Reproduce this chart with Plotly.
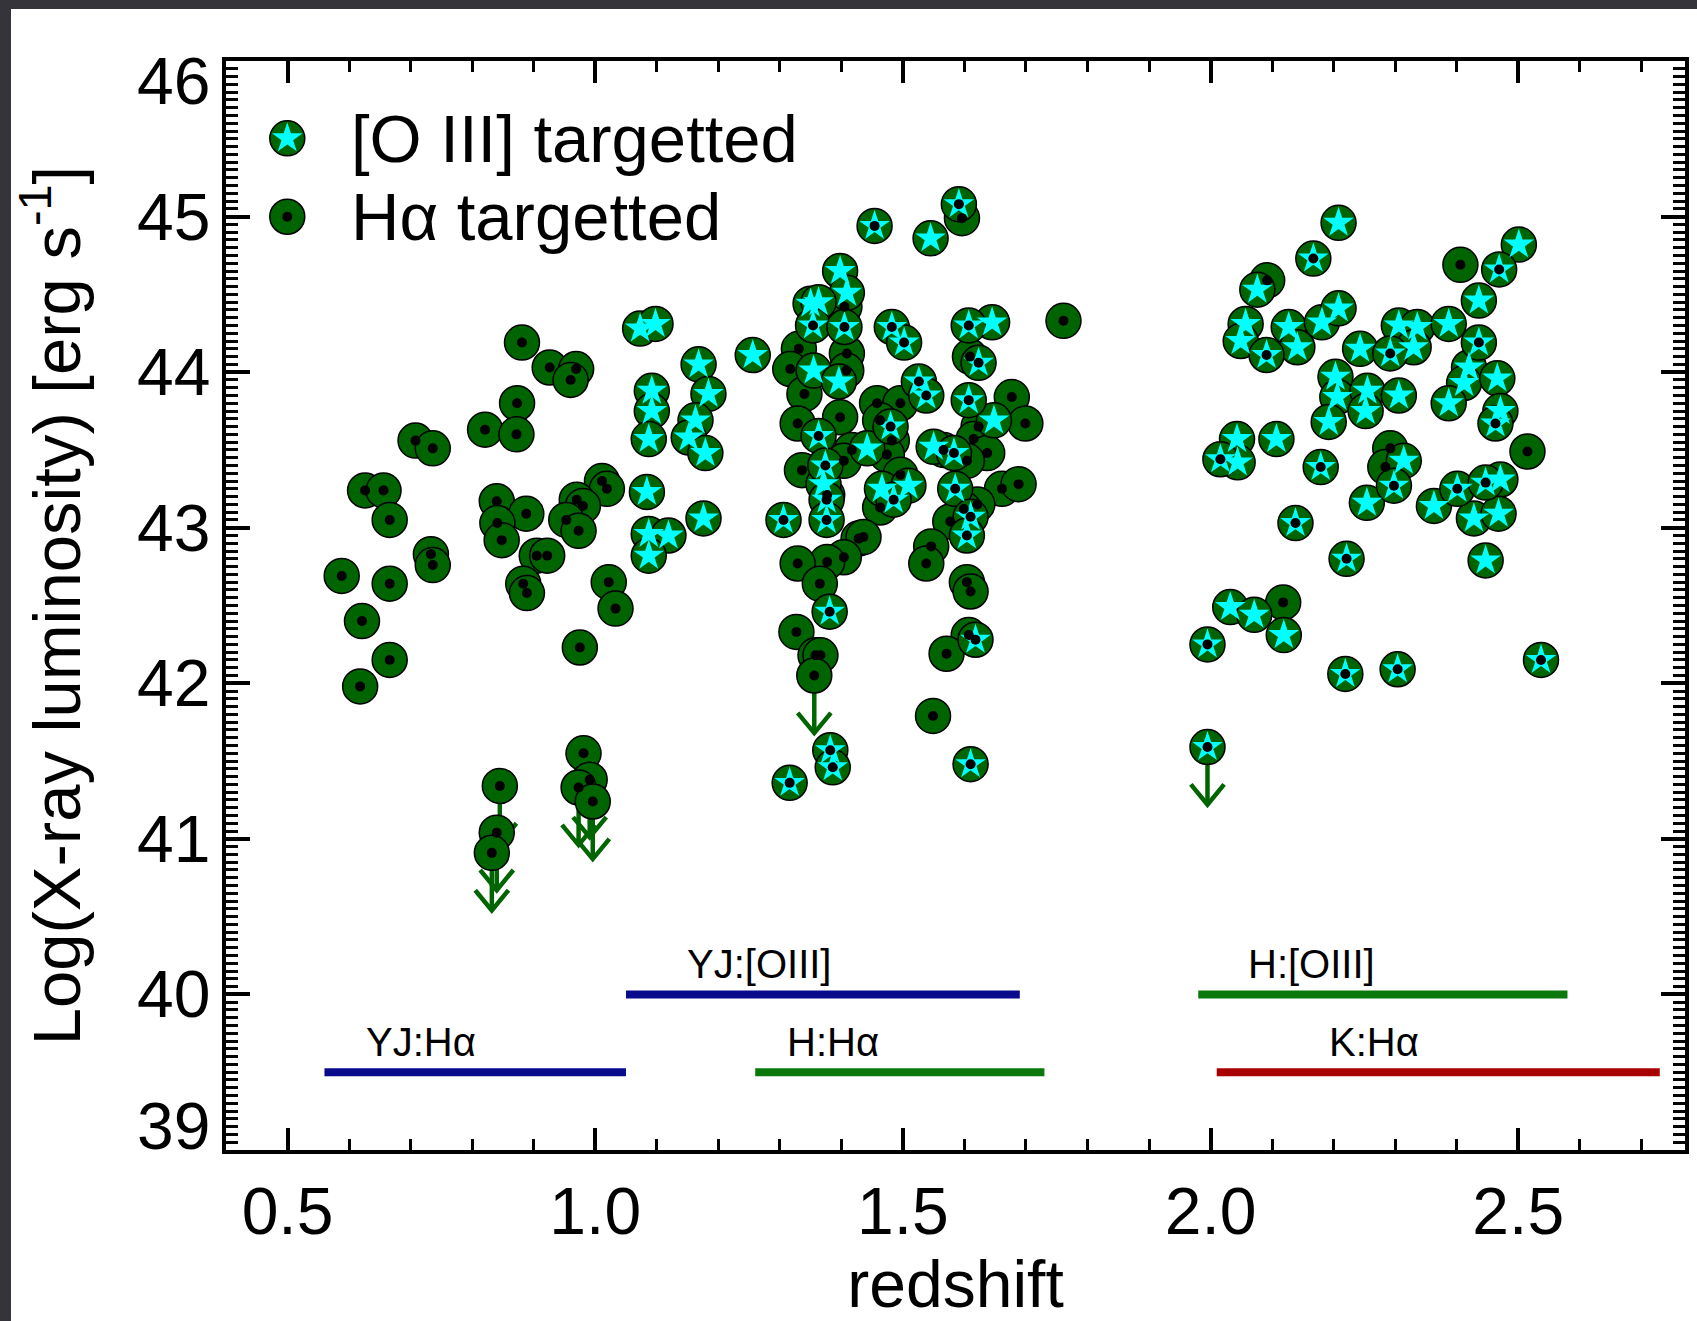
import numpy as np
import plotly.graph_objects as go

# ---------------- data (redshift, log Lx) ----------------
# H-alpha targetted only (green circle + black dot)
ha_z = [0.881, 0.926, 0.969, 0.960, 0.873, 0.821, 0.872, 0.708, 0.736, 0.626, 0.656, 0.666,
        0.840, 0.888, 0.841, 0.848, 1.011, 1.019, 0.970, 0.980, 0.953, 0.973, 0.905, 0.922,
        0.883, 0.889, 0.733, 0.736, 0.588, 0.666, 1.022, 1.033, 0.621, 0.666, 0.975, 0.618,
        0.845, 0.840, 0.832, 0.981, 0.991, 0.973, 0.996,
        1.596, 1.405, 1.331, 1.317, 1.409, 1.408, 1.340, 1.329, 1.398, 1.609, 1.677, 1.699,
        1.458, 1.496, 1.463, 1.482, 1.474, 1.496, 1.417, 1.404, 1.623, 1.615, 1.637, 1.566,
        1.604, 1.336, 1.377, 1.661, 1.688, 1.463, 1.621, 1.599, 1.577, 1.428, 1.436, 1.404,
        1.377, 1.329, 1.365, 1.546, 1.538, 1.604, 1.610, 1.607, 1.571, 1.327, 1.358, 1.366,
        1.356, 1.549, 1.761,
        2.092, 2.406, 2.515, 2.292, 2.284, 2.118]
ha_L = [44.19, 44.03, 44.02, 43.95, 43.80, 43.63, 43.60, 43.56, 43.51, 43.24, 43.24, 43.05,
        43.17, 43.09, 43.03, 42.92, 43.30, 43.25, 43.18, 43.14, 43.05, 42.98, 42.82, 42.82,
        42.64, 42.58, 42.83, 42.76, 42.69, 42.64, 42.65, 42.48, 42.40, 42.15, 42.23, 41.98,
        41.34, 41.04, 40.91, 41.55, 41.38, 41.33, 41.24,
        44.99, 44.42, 44.15, 44.02, 44.12, 44.01, 43.86, 43.67, 43.71, 44.10, 43.84, 43.67,
        43.80, 43.80, 43.69, 43.56, 43.47, 43.34, 43.50, 43.43, 43.65, 43.57, 43.48, 43.50,
        43.43, 43.37, 43.21, 43.25, 43.28, 43.13, 43.15, 43.12, 43.04, 42.93, 42.94, 42.81,
        42.78, 42.77, 42.64, 42.88, 42.77, 42.65, 42.59, 42.31, 42.19, 42.33, 42.18, 42.18,
        42.05, 41.79, 44.33,
        44.59, 44.69, 43.49, 43.51, 43.39, 42.52]

# [O III] targetted only (green circle + cyan star)
o3_z = [1.073, 1.098, 1.168, 1.184, 1.092, 1.092, 1.087, 1.163, 1.152, 1.179, 1.084, 1.176,
        1.087, 1.119, 1.087,
        1.545, 1.398, 1.409, 1.350, 1.363, 1.355, 1.396, 1.256, 1.645, 1.442, 1.550, 1.648,
        1.371, 1.466, 1.509,
        2.208, 2.076, 2.501, 2.436, 2.057, 2.049, 2.127, 2.141, 2.181, 2.208, 2.243, 2.306,
        2.336, 2.330, 2.387, 2.420, 2.412, 2.466, 2.387, 2.471, 2.203, 2.206, 2.255, 2.252,
        2.306, 2.192, 2.043, 2.044, 2.107, 2.314, 2.254, 2.471, 2.363, 2.428, 2.468, 2.447,
        2.032, 2.071, 2.119]
o3_L = [44.28, 44.31, 44.05, 43.86, 43.88, 43.75, 43.57, 43.69, 43.58, 43.48, 43.23, 43.06,
        42.96, 42.95, 42.82,
        44.86, 44.65, 44.51, 44.44, 44.45, 44.01, 43.94, 44.11, 44.32, 43.51, 43.52, 43.69,
        43.28, 43.25, 43.27,
        44.96, 44.53, 44.82, 44.46, 44.31, 44.20, 44.29, 44.16, 44.32, 44.41, 44.15, 44.30,
        44.29, 44.16, 44.31, 44.03, 43.93, 43.96, 43.80, 43.75, 43.97, 43.84, 43.88, 43.75,
        43.85, 43.68, 43.57, 43.42, 43.57, 43.43, 43.16, 43.31, 43.14, 43.06, 43.09, 42.79,
        42.49, 42.44, 42.31]

# targetted in both (circle + star + dot)
both_z = [1.454, 1.591, 1.354, 1.405, 1.482, 1.502, 1.607, 1.623, 1.607, 1.526, 1.538, 1.363,
          1.480, 1.583, 1.374, 1.585, 1.306, 1.376, 1.376, 1.485, 1.610, 1.604, 1.381, 1.618,
          1.382, 1.386, 1.316, 1.610,
          2.167, 2.469, 2.091, 2.292, 2.436, 2.463, 2.016, 2.179, 2.298, 2.401, 2.447, 2.138,
          2.221, 1.995, 2.219, 2.304, 2.537, 1.995]
both_L = [44.94, 45.08, 44.30, 44.29, 44.29, 44.19, 44.30, 44.06, 43.82, 43.94, 43.85, 43.59,
          43.65, 43.48, 43.40, 43.25, 43.05, 43.18, 43.05, 43.18, 43.07, 42.95, 42.46, 42.28,
          41.57, 41.46, 41.36, 41.48,
          44.73, 44.66, 44.11, 44.12, 44.19, 43.67, 43.44, 43.39, 43.27, 43.25, 43.29, 43.03,
          42.80, 42.25, 42.06, 42.09, 42.15, 41.59]

# upper limits (drawn with downward arrows)
ul_z = [0.845, 0.840, 0.832, 0.991, 0.973, 0.996, 1.356, 1.995]
ul_L = [41.34, 41.04, 40.91, 41.38, 41.33, 41.24, 42.05, 41.59]

# spectroscopic bands
band_labels = ["YJ:Hα", "YJ:[OIII]", "H:Hα", "H:[OIII]", "K:Hα"]
band_start = [0.56, 1.05, 1.26, 1.98, 2.01]
band_end = [1.05, 1.69, 1.73, 2.58, 2.73]
band_level = [39.5, 40.0, 39.5, 40.0, 39.5]
band_label_z = [0.717, 1.266, 1.387, 2.164, 2.266]
band_colors = ["#0a0a8c", "#0a0a8c", "#0a780a", "#0a780a", "#a80000"]

y_tick_vals = [39, 40, 41, 42, 43, 44, 45, 46]
legend_labels = ["[O III] targetted", "Hα targetted"]

# ---------------- styling ----------------
FONT = "Liberation Sans, Arial, sans-serif"
GREEN = "#006400"
W, H = 1697, 1321
ML, MR, MT, MB = 226, 12, 61, 171
PW, PH = W - ML - MR, H - MT - MB

fig = go.Figure()

# band lines
for lab, s, e, lev, c in zip(band_labels, band_start, band_end, band_level, band_colors):
    fig.add_trace(go.Scatter(x=[s, e], y=[lev, lev], mode="lines",
                             line=dict(color=c, width=8), showlegend=False, hoverinfo="skip"))

# upper-limit arrows
ARROW_LEN, HEAD_DZ, HEAD_DL = 0.37, 0.027, 0.13
arr_x, arr_y = [], []
for z, L in zip(ul_z, ul_L):
    tip = L - ARROW_LEN
    arr_x += [z, z, None, z - HEAD_DZ, z, z + HEAD_DZ, None]
    arr_y += [L, tip, None, tip + HEAD_DL, tip, tip + HEAD_DL, None]
fig.add_trace(go.Scatter(x=arr_x, y=arr_y, mode="lines",
                         line=dict(color=GREEN, width=4.5), showlegend=False, hoverinfo="skip"))

all_z = ha_z + o3_z + both_z
all_L = ha_L + o3_L + both_L
fig.add_trace(go.Scatter(x=all_z, y=all_L, mode="markers", showlegend=False,
                         marker=dict(symbol="circle", size=35, color=GREEN,
                                     line=dict(color="black", width=1.5))))
fig.add_trace(go.Scatter(x=o3_z + both_z, y=o3_L + both_L, mode="markers", showlegend=False,
                         marker=dict(symbol="star", size=23, color="#00ffff", line=dict(width=0))))
fig.add_trace(go.Scatter(x=ha_z + both_z, y=ha_L + both_L, mode="markers", showlegend=False,
                         marker=dict(symbol="circle", size=10, color="black", line=dict(width=0))))

# manual legend on an overlay axis (0..1 frame)
leg_x = [0.042, 0.042]
leg_y = [0.929, 0.857]
fig.add_trace(go.Scatter(x=leg_x, y=leg_y, xaxis="x2", yaxis="y2", mode="markers",
                         showlegend=False, hoverinfo="skip",
                         marker=dict(symbol="circle", size=35, color=GREEN,
                                     line=dict(color="black", width=1.5))))
fig.add_trace(go.Scatter(x=leg_x[:1], y=leg_y[:1], xaxis="x2", yaxis="y2", mode="markers",
                         showlegend=False, hoverinfo="skip",
                         marker=dict(symbol="star", size=23, color="#00ffff", line=dict(width=0))))
fig.add_trace(go.Scatter(x=leg_x[1:], y=leg_y[1:], xaxis="x2", yaxis="y2", mode="markers",
                         showlegend=False, hoverinfo="skip",
                         marker=dict(symbol="circle", size=10, color="black", line=dict(width=0))))

annotations = []
for lab, ly in zip(legend_labels, leg_y):
    annotations.append(dict(text=lab, x=0.084, y=ly, xref="paper", yref="paper",
                            xanchor="left", yanchor="middle", showarrow=False,
                            font=dict(family=FONT, size=67, color="black")))
for lab, lz, lev in zip(band_labels, band_label_z, band_level):
    annotations.append(dict(text=lab, x=lz, y=lev, xref="x", yref="y", xanchor="center",
                            yanchor="bottom", yshift=6, showarrow=False,
                            font=dict(family=FONT, size=40, color="black")))
# y tick labels (end labels shifted inward as in the original)
for val in y_tick_vals:
    shift = -20 if val == y_tick_vals[-1] else (24 if val == y_tick_vals[0] else 0)
    annotations.append(dict(text=str(val), x=0, y=val, xref="paper", yref="y",
                            xanchor="right", yanchor="middle", xshift=-14, yshift=shift,
                            showarrow=False, font=dict(family=FONT, size=66, color="black")))

axis_common = dict(showline=True, linewidth=4, linecolor="black", mirror="allticks",
                   ticks="inside", tickcolor="black", showgrid=False, zeroline=False,
                   automargin=False)

fig.update_layout(
    width=W, height=H, autosize=False,
    margin=dict(l=ML, r=MR, t=MT, b=MB),
    paper_bgcolor="white", plot_bgcolor="white",
    showlegend=False,
    xaxis=dict(range=[0.4, 2.771], tick0=0.5, dtick=0.5, tickformat=".1f",
               ticklen=22, tickwidth=4, ticklabelstandoff=1,
               tickfont=dict(family=FONT, size=66, color="black"),
               minor=dict(dtick=0.1, tick0=0.5, ticks="inside", ticklen=11, tickwidth=3,
                          tickcolor="black"),
               title=dict(text="redshift", font=dict(family=FONT, size=66, color="black"),
                          standoff=8),
               **axis_common),
    yaxis=dict(range=[39, 46], tick0=39, dtick=1, ticklen=24, tickwidth=4,
               showticklabels=False,
               minor=dict(dtick=0.05, tick0=39, ticks="inside", ticklen=12, tickwidth=3,
                          tickcolor="black"),
               title=dict(text="Log(X-ray luminosity) [erg s<sup>-1</sup>]",
                          font=dict(family=FONT, size=67, color="black"), standoff=121),
               **axis_common),
    xaxis2=dict(overlaying="x", range=[0, 1], visible=False, side="top"),
    yaxis2=dict(overlaying="y", range=[0, 1], visible=False, side="right"),
    annotations=annotations,
    shapes=[
        dict(type="rect", xref="paper", yref="paper", layer="above",
             x0=-ML / PW, x1=(W - ML) / PW, y0=1 + (MT - 9) / PH, y1=1 + MT / PH,
             fillcolor="#34343a", line=dict(width=0)),
        dict(type="rect", xref="paper", yref="paper", layer="above",
             x0=-ML / PW, x1=-(ML - 11) / PW, y0=-MB / PH, y1=1 + MT / PH,
             fillcolor="#34343a", line=dict(width=0)),
    ],
)

fig.write_html("out.html")
